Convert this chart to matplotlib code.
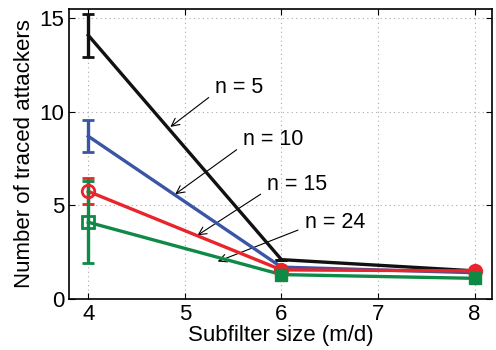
import matplotlib.pyplot as plt

plt.rcParams['font.family'] = ['Liberation Sans', 'DejaVu Sans']

subfilter = [4, 6, 8]

n5 = [14.1, 2.1, 1.5]
n5_err = [1.15, 0, 0]
n10 = [8.7, 1.7, 1.4]
n10_err = [0.85, 0, 0]
n15 = [5.75, 1.55, 1.5]
n15_err = [0.7, 0, 0]
n24 = [4.1, 1.3, 1.1]
n24_err = [2.2, 0, 0]

labels = ['n = 5', 'n = 10', 'n = 15', 'n = 24']
colors = ['#111111', '#3a55a5', '#e8252b', '#0e8a46']

fig = plt.figure(figsize=(4.96, 3.5), dpi=100)
ax = fig.add_axes([0.139, 0.146, 0.853, 0.828])

lw = 2.4
ax.errorbar(subfilter, n5, yerr=n5_err, color=colors[0], lw=lw, capsize=4, capthick=2, zorder=3)
ax.errorbar(subfilter, n10, yerr=n10_err, color=colors[1], lw=lw, capsize=4, capthick=2, zorder=3)
ax.errorbar(subfilter, n15, yerr=n15_err, color=colors[2], lw=lw, capsize=4, capthick=2, zorder=4)
ax.errorbar(subfilter, n24, yerr=n24_err, color=colors[3], lw=lw, capsize=4, capthick=2, zorder=5)

# open markers at the first point, filled at the others
ax.plot(subfilter[:1], n15[:1], 'o', ms=9, mfc='none', mec=colors[2], mew=2, zorder=6)
ax.plot(subfilter[1:], n15[1:], 'o', ms=10, color=colors[2], zorder=6)
ax.plot(subfilter[:1], n24[:1], 's', ms=8, mfc='none', mec=colors[3], mew=2, zorder=7)
ax.plot(subfilter[1:], n24[1:], 's', ms=8, color=colors[3], zorder=7)

# labels with arrows pointing at each curve
text_pos = [(5.31, 11.3), (5.6, 8.5), (5.85, 6.1), (6.24, 4.1)]
arrow_tip = [(4.85, 9.2), (4.9, 5.6), (5.13, 3.4), (5.34, 2.0)]
for lab, tp, tip in zip(labels, text_pos, arrow_tip):
    ax.annotate(lab, xy=tip, xytext=tp, fontsize=15.5, va='center', ha='left',
                arrowprops=dict(arrowstyle='->', color='black', lw=0.8,
                                relpos=(0, 0.25), shrinkA=3, shrinkB=0,
                                mutation_scale=14))

ax.set_xlim(3.8, 8.18)
ax.set_ylim(0, 15.5)
ax.set_xticks([4, 5, 6, 7, 8])
ax.set_yticks([0, 5, 10, 15])
ax.grid(True, linestyle=(0, (1, 3)), color='#aaaaaa', lw=0.8)
ax.tick_params(direction='in', top=True, right=True, labelsize=16, length=4)
ax.set_xlabel('Subfilter size (m/d)', fontsize=16, labelpad=0)
ax.set_ylabel('Number of traced attackers', fontsize=16, labelpad=3)
for s in ax.spines.values():
    s.set_linewidth(1.2)

fig.savefig('out.png', dpi=100)
